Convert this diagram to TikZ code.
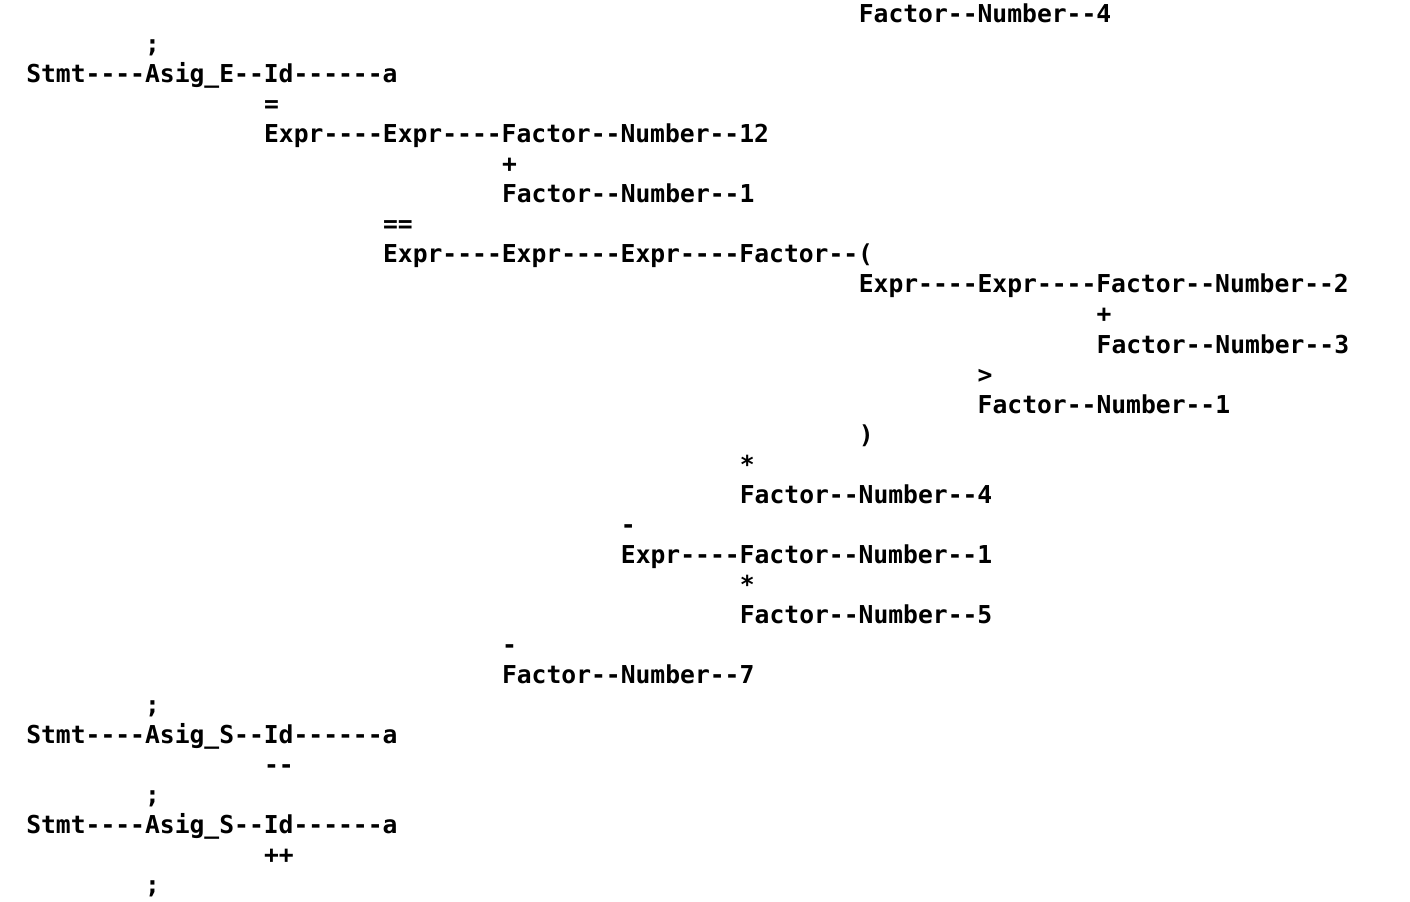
\documentclass[tikz,border=0pt]{standalone}
\usepackage{fontspec}
\setmonofont{DejaVu Sans Mono}
\usetikzlibrary{positioning}

\begin{document}
\begin{tikzpicture}[x=11.15pt,y=22.5pt,
thin]
\tikzstyle{every node}=[anchor=base west,inner sep=0pt,text=black,
  font=\ttfamily\bfseries\fontsize{18.5}{22}\selectfont]

\path[use as bounding box] (-19.5pt,17.25pt) rectangle ++(1057.5pt,-676.5pt);

\node (top4)      at (56,0)   {Factor--Number--4};
\node (semi1)     at (8,-1)   {;};
\node (stmt1)     at (0,-2)   {Stmt----Asig\_E--Id------a};
\node (assign)    at (16,-3)  {=};
\node (expr12)    at (16,-4)  {Expr----Expr----Factor--Number--12};
\node (plus1)     at (32,-5)  {+};
\node (fact1)     at (32,-6)  {Factor--Number--1};
\node (eqeq)      at (24,-7)  {==};
\node (exprparen) at (24,-8)  {Expr----Expr----Expr----Factor--(};
\node (expr2)     at (56,-9)  {Expr----Expr----Factor--Number--2};
\node (plus2)     at (72,-10) {+};
\node (fact3)     at (72,-11) {Factor--Number--3};
\node (gt)        at (64,-12) {>};
\node (factgt)    at (64,-13) {Factor--Number--1};
\node (rparen)    at (56,-14) {)};
\node (times1)    at (48,-15) {*};
\node (fact4)     at (48,-16) {Factor--Number--4};
\node (minus1)    at (40,-17) {-};
\node (exprm)     at (40,-18) {Expr----Factor--Number--1};
\node (times2)    at (48,-19) {*};
\node (fact5)     at (48,-20) {Factor--Number--5};
\node (minus2)    at (32,-21) {-};
\node (fact7)     at (32,-22) {Factor--Number--7};
\node (semi2)     at (8,-23)  {;};
\node (stmt2)     at (0,-24)  {Stmt----Asig\_S--Id------a};
\node (decr)      at (16,-25) {--};
\node (semi3)     at (8,-26)  {;};
\node (stmt3)     at (0,-27)  {Stmt----Asig\_S--Id------a};
\node (incr)      at (16,-28) {++};
\node (semi4)     at (8,-29)  {;};
\end{tikzpicture}
\end{document}
